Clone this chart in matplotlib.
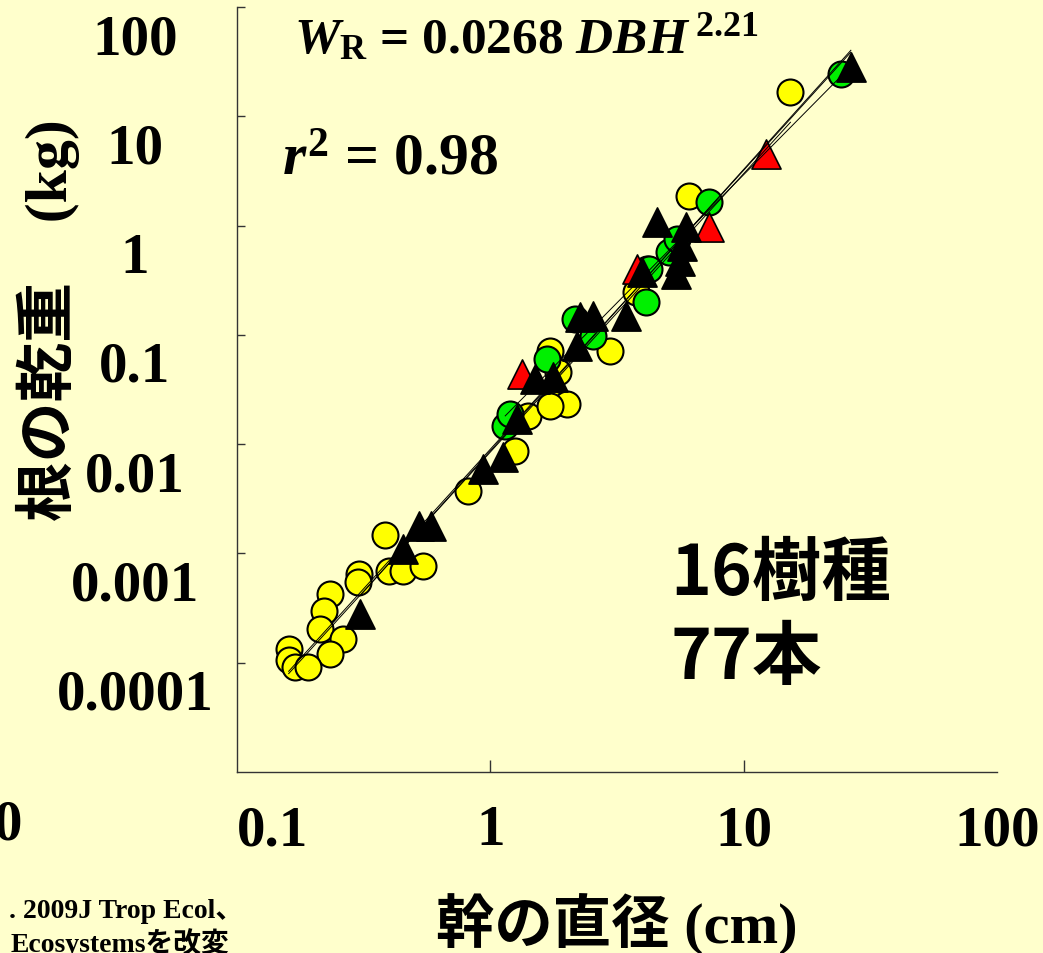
import numpy as np
import matplotlib.pyplot as plt
from matplotlib.transforms import ScaledTranslation

plt.rcParams['mathtext.fontset'] = 'custom'
plt.rcParams['mathtext.rm'] = 'Liberation Serif:bold'
plt.rcParams['mathtext.bf'] = 'Liberation Serif:bold'
plt.rcParams['mathtext.it'] = 'Liberation Serif:bold:italic'

BG = '#FFFFCC'
MIXED = ['Liberation Serif', 'Noto Sans CJK JP']

# stem diameter (cm) and root dry weight (kg), by marker group
yellow_dbh = [0.384, 0.304, 0.301, 0.232, 0.221, 0.212, 0.261, 0.232, 0.160, 0.160,
              0.169, 0.191, 0.398, 0.452, 0.541, 0.820, 1.253, 1.409, 1.767, 2.004,
              1.719, 1.719, 1.848, 2.955, 4.17, 3.768, 6.09, 15.3]
yellow_wr = [0.00146, 0.000644, 0.000544, 0.000423, 0.000295, 0.000202, 0.000164, 0.000119,
             0.000133, 0.000107, 0.0000908, 0.0000908, 0.000686, 0.000686, 0.000762, 0.00370,
             0.00860, 0.0180, 0.0231, 0.0231, 0.0222, 0.0707, 0.0454, 0.0707, 0.397, 0.245,
             1.85, 16.6]

green_dbh = [1.145, 1.198, 1.673, 2.154, 2.535, 4.24, 4.13, 5.08, 5.46, 7.29, 24.2]
green_wr = [0.0146, 0.0187, 0.0597, 0.139, 0.0969, 0.397, 0.202, 0.569, 0.748, 1.63, 24.2]

black_dbh = [0.306, 0.452, 0.522, 0.582, 0.939, 1.125, 1.276, 1.500, 1.767, 2.194,
             2.254, 2.535, 3.447, 3.98, 4.56, 5.93, 5.71, 5.41, 26.5, 5.6]
black_wr = [0.000277, 0.00109, 0.00177, 0.00177, 0.00588, 0.00757, 0.0169, 0.0392, 0.0409,
            0.0785, 0.145, 0.148, 0.148, 0.373, 1.07, 0.962, 0.645, 0.357, 28.0, 0.470]

red_dbh = [1.335, 3.805, 7.29, 12.3]
red_wr = [0.0435, 0.397, 0.962, 4.48]

x_ticks = [0.1, 1, 10, 100]
x_ticklabels = ['0.1', '1', '10', '100']
y_ticks = [100, 10, 1, 0.1, 0.01, 0.001, 0.0001]
y_ticklabels = ['100', '10', '1', '0.1', '0.01', '0.001', '0.0001']


def fit_line(dbh, wr):
    lx, ly = np.log10(dbh), np.log10(wr)
    b, a = np.polyfit(lx, ly, 1)
    xs = np.logspace(lx.min(), lx.max(), 50)
    return xs, 10 ** (a + b * np.log10(xs))


fig = plt.figure(figsize=(10.43, 9.54), dpi=100, facecolor=BG)
ax = fig.add_axes([0.2272, 0.1897, 0.7287, 0.8019], facecolor=BG)
ax.set_xscale('log')
ax.set_yscale('log')
ax.set_xlim(0.1, 100)
ax.set_ylim(1e-5, 100)

ax.scatter(yellow_dbh, yellow_wr, s=350, c='#FFFF00', edgecolors='black', linewidths=1.5, zorder=2)
ax.scatter(green_dbh, green_wr, s=350, c='#00F000', edgecolors='black', linewidths=1.5, zorder=3)
ax.scatter(red_dbh, red_wr, s=440, marker='^', c='#FF0000', edgecolors='black', linewidths=1.2, zorder=4)
ax.scatter(black_dbh, black_wr, s=440, marker='^', c='black', edgecolors='black', linewidths=1.2, zorder=5)

all_dbh = np.array(yellow_dbh + green_dbh + black_dbh + red_dbh)
all_wr = np.array(yellow_wr + green_wr + black_wr + red_wr)
for d, w in [(all_dbh, all_wr), (yellow_dbh, yellow_wr), (green_dbh, green_wr), (black_dbh, black_wr)]:
    xs, ys = fit_line(np.array(d), np.array(w))
    ax.plot(xs, ys, color='black', lw=0.7, zorder=6)

for side in ['top', 'right']:
    ax.spines[side].set_visible(False)
for side in ['left', 'bottom']:
    ax.spines[side].set_color('#333333')
    ax.spines[side].set_linewidth(1.0)

ax.minorticks_off()
ax.set_xticks([1, 10])
ax.set_yticks([1e-4, 1e-3, 1e-2, 0.1, 1, 10, 100])
ax.tick_params(axis='x', direction='in', length=9, width=1, color='#333333', labelbottom=False)
ax.tick_params(axis='y', direction='in', length=6, width=1, color='#333333', labelleft=False)

# tick labels, placed as on the original slide
num_font = dict(family='Liberation Serif', weight='bold', fontsize=41)
ytr = ax.get_yaxis_transform() + ScaledTranslation(-1.02, -0.32, fig.dpi_scale_trans)
for v, lab in zip(y_ticks, y_ticklabels):
    ax.text(0, v, lab, transform=ytr, ha='center', va='center', **num_font)
xtr = ax.get_xaxis_transform() + ScaledTranslation(0, -0.58, fig.dpi_scale_trans)
for i, (v, lab) in enumerate(zip(x_ticks, x_ticklabels)):
    ax.text(v, 0, lab, transform=xtr, ha='left' if i == 0 else 'center', va='center',
            clip_on=False, **num_font)

# axis titles
fig.text(48 / 1043, 1 - 320 / 954, '根の乾重\u3000(kg)', rotation=90, ha='center', va='center',
         family=MIXED, weight='bold', fontsize=43)
fig.text(617 / 1043, 1 - 925 / 954, '幹の直径 (cm)', ha='center', va='center',
         family=MIXED, weight='bold', fontsize=42)

# regression annotations
fig.text(294 / 1043, 1 - 53 / 954, r'$W_{\mathrm{R}}$ = 0.0268 $DBH^{\,\mathrm{2.21}}$',
         ha='left', va='baseline', family='Liberation Serif', weight='bold', fontsize=37)
fig.text(282 / 1043, 1 - 175 / 954, r'$r^{\mathrm{2}}$ = 0.98',
         ha='left', va='baseline', family='Liberation Serif', weight='bold', fontsize=43)

fig.text(670 / 1043, 1 - 575 / 954, '16樹種', ha='left', va='center',
         family='Noto Sans CJK JP', weight='bold', fontsize=50)
fig.text(670 / 1043, 1 - 659 / 954, '77本', ha='left', va='center',
         family='Noto Sans CJK JP', weight='bold', fontsize=50)

# cropped slide remnants
fig.text(22 / 1043, 1 - 825 / 954, '0', ha='right', va='center', **num_font)
fig.text(243 / 1043, 1 - 918 / 954, '. 2009J Trop Ecol、', ha='right', va='baseline',
         family=MIXED, weight='bold', fontsize=20)
fig.text(229 / 1043, 1 - 952 / 954, 'Ecosystemsを改変', ha='right', va='baseline',
         family=MIXED, weight='bold', fontsize=20)

fig.savefig('out.png', dpi=100, facecolor=BG)
